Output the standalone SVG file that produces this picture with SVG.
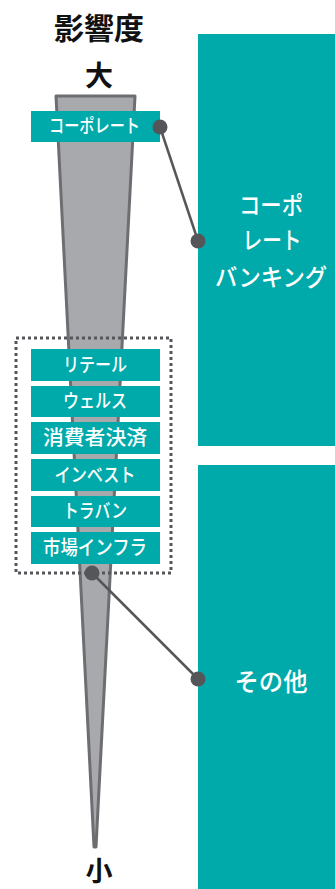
<svg xmlns="http://www.w3.org/2000/svg" width="335" height="889" viewBox="0 0 335 889">
<style>
.lbl{font-family:"Noto Sans CJK JP","Noto Sans",sans-serif;font-weight:500;fill:#fff;text-anchor:middle;}
.hd{font-family:"Noto Sans CJK JP","Noto Sans",sans-serif;font-weight:700;fill:#111;text-anchor:middle;}
.box{fill:#00aaaa;}
.dot{fill:#55565a;}
.conn{stroke:#55565a;stroke-width:2.5;fill:none;}
</style>
<rect width="335" height="889" fill="#fff"/>
<g id="title">
<text class="hd" x="99" y="39" font-size="30">影響度</text>
<text class="hd" x="99" y="86" font-size="28">大</text>
<text class="hd" x="99" y="881" font-size="27">小</text>
</g>
<g id="wedge">
<polygon points="56,96 135,96 96,847 94,847" fill="#a7a9ac" stroke="#6d6e71" stroke-width="3" stroke-linejoin="round"/>
</g>
<g id="corporate-banking">
<rect class="box" x="198" y="34" width="137" height="412"/>
<text class="lbl" x="271" y="214" font-size="24" textLength="64" lengthAdjust="spacingAndGlyphs">コーポ</text>
<text class="lbl" x="272" y="249" font-size="24" textLength="59" lengthAdjust="spacingAndGlyphs">レート</text>
<text class="lbl" x="271" y="286" font-size="24" textLength="112" lengthAdjust="spacingAndGlyphs">バンキング</text>
</g>
<g id="other">
<rect class="box" x="198" y="465" width="137" height="424"/>
<text class="lbl" x="271" y="691" font-size="25" textLength="73" lengthAdjust="spacingAndGlyphs">その他</text>
</g>
<g id="group-box">
<rect x="16" y="338" width="155" height="235" fill="none" stroke="#55565a" stroke-width="3" stroke-dasharray="3 3"/>
</g>
<g id="corporate">
<rect class="box" x="31" y="111" width="129" height="31"/>
<text class="lbl" x="94.5" y="133" font-size="19" textLength="91" lengthAdjust="spacingAndGlyphs">コーポレート</text>
</g>
<g id="retail">
<rect class="box" x="31" y="349" width="129" height="32"/>
<text class="lbl" x="95" y="372" font-size="19" textLength="64" lengthAdjust="spacingAndGlyphs">リテール</text>
</g>
<g id="wealth">
<rect class="box" x="31" y="386" width="129" height="31"/>
<text class="lbl" x="95" y="408" font-size="19" textLength="64" lengthAdjust="spacingAndGlyphs">ウェルス</text>
</g>
<g id="payments">
<rect class="box" x="31" y="422" width="129" height="32"/>
<text class="lbl" x="95" y="445" font-size="20" textLength="104" lengthAdjust="spacingAndGlyphs">消費者決済</text>
</g>
<g id="invest">
<rect class="box" x="31" y="459" width="129" height="32"/>
<text class="lbl" x="95" y="482" font-size="19" textLength="81" lengthAdjust="spacingAndGlyphs">インベスト</text>
</g>
<g id="travel">
<rect class="box" x="31" y="496" width="129" height="31"/>
<text class="lbl" x="95" y="518" font-size="19" textLength="64" lengthAdjust="spacingAndGlyphs">トラバン</text>
</g>
<g id="market">
<rect class="box" x="31" y="532" width="129" height="32"/>
<text class="lbl" x="95" y="555" font-size="20" textLength="104" lengthAdjust="spacingAndGlyphs">市場インフラ</text>
</g>
<g id="connectors">
<line class="conn" x1="160" y1="127" x2="198" y2="241"/>
<circle class="dot" cx="160" cy="127" r="7.5"/>
<circle class="dot" cx="198" cy="241" r="7.5"/>
<line class="conn" x1="92" y1="573" x2="198" y2="679"/>
<circle class="dot" cx="92" cy="573" r="7.5"/>
<circle class="dot" cx="198" cy="679" r="7.5"/>
</g>
</svg>
